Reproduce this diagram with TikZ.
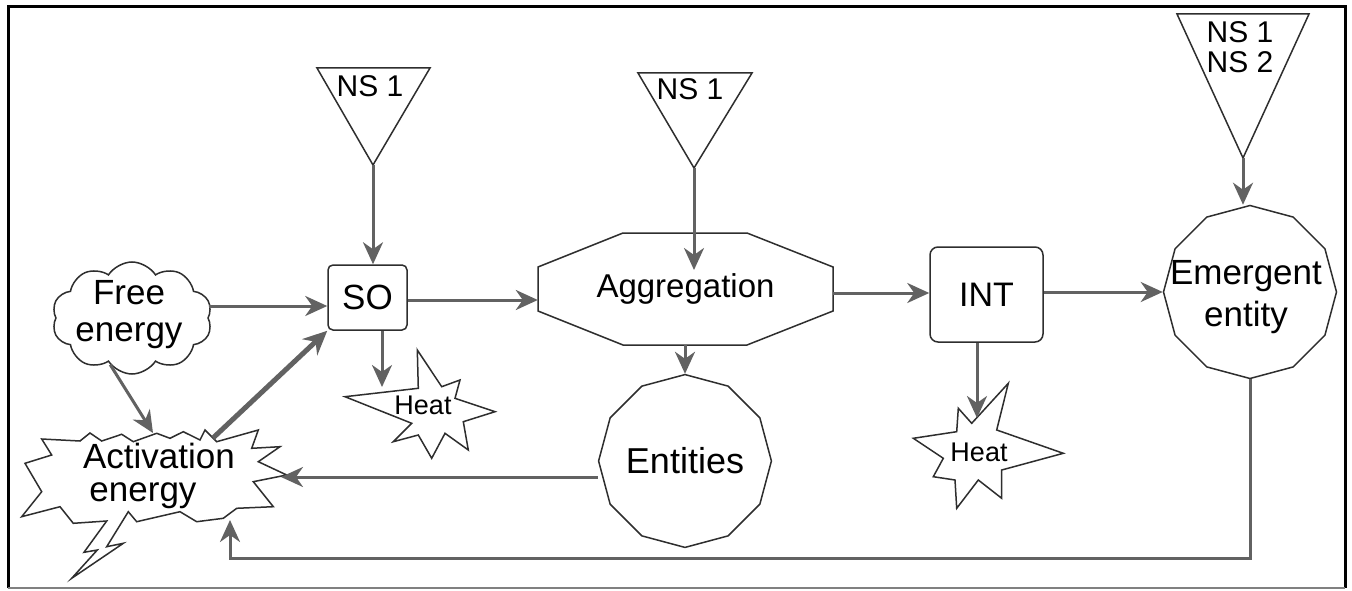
\documentclass[tikz,border=0pt]{standalone}
\usepackage{fontspec}
\setmainfont{Liberation Sans}
\usetikzlibrary{arrows.meta,shapes.geometric,shapes.symbols,calc}
\definecolor{arrgray}{HTML}{626262}
\definecolor{shpcol}{HTML}{2E2E2E}
\begin{document}
\begin{tikzpicture}[x=1pt,y=-1pt,
  arr/.style={draw=arrgray, line width=3pt, -{Stealth[length=22pt,width=20pt,inset=7pt]}},
  thickarr/.style={draw=arrgray, line width=5pt, -{Stealth[length=24pt,width=22pt,inset=8pt]}},
  shp/.style={draw=shpcol, line width=1.5pt, fill=white},
  lbl/.style={font=\fontsize{35}{42}\selectfont, inner sep=0pt, align=center, text=black},
  nslbl/.style={font=\fontsize{30}{30}\selectfont, inner sep=0pt, align=center, text=black},
  heatlbl/.style={font=\fontsize{27}{30}\selectfont, inner sep=0pt, text=black}]
\fill[white] (0,0) rectangle (1352,591);
\useasboundingbox (0,0) rectangle (1352,591);
% frame
\draw[black, line width=3pt] (8,588) -- (8,7) -- (1345,7) -- (1345,588);
\draw[gray, line width=2pt] (8,588) -- (1345,588);

% NS triangles
\coordinate (t1) at (373,165);
\draw[shp] (317,68) -- (430,68) -- (t1) -- cycle;
\node[nslbl] (ns1a) at (370,86) {NS 1};
\coordinate (t2) at (694,168);
\draw[shp] (638,73) -- (752,73) -- (t2) -- cycle;
\node[nslbl] (ns1b) at (690,89) {NS 1};
\coordinate (t3) at (1243,158);
\draw[shp] (1177,14) -- (1309,14) -- (t3) -- cycle;
\node[nslbl] (ns12) at (1240,47) {NS 1\\NS 2};

% Free energy cloud
\node[cloud, cloud puffs=10, cloud puff arc=115, aspect=1.5, draw=shpcol, line width=1.5pt, fill=white,
      minimum width=160pt, minimum height=112pt, inner sep=0pt] (free) at (132,318) {};
\node[lbl, font=\fontsize{35}{37}\selectfont] (freet) at (129,314.7) {Free\\energy};

% Activation energy
\draw[shp] (41.7,439) -- (80,441) -- (90,433) -- (101.7,441) -- (121.7,434.3) -- (133.3,441.7)
  -- (156.7,433.3) -- (170,438.3) -- (183.3,431.7) -- (200,440) -- (205,430) -- (216.7,441.7)
  -- (258.3,430) -- (251.7,448.3) -- (280,446.7) -- (258.3,461.7) -- (286.7,475) -- (253.3,481.7)
  -- (273.3,506.7) -- (236.7,508.3) -- (223.3,518.3) -- (196.7,521.7) -- (180,511.7) -- (136.7,521.7)
  -- (128.3,511.7) -- (106.7,546.7) -- (123.3,543.3) -- (71.7,578.3) -- (97.3,550) -- (84,552.3)
  -- (106.7,521) -- (73.3,523.3) -- (60,506.7) -- (21.7,516.7) -- (41.7,491.7) -- (25,463.3)
  -- (51.7,455) -- cycle;
\node[lbl, font=\fontsize{35}{33}\selectfont] (act) at (159,476) {Activation\\energy\hspace*{32pt}};
\coordinate (actN) at (153,433);
\coordinate (actNE) at (213,438);
\coordinate (actE) at (281,477);
\coordinate (actS) at (230,520);

% SO
\node[shp, rounded corners=5pt, minimum width=79pt, minimum height=65pt, lbl] (so) at (367.5,297.5) {SO};

% Heat 1
\draw[shp] (345,396.7) -- (418.3,388.3) -- (417.3,350) -- (441.7,386.7) -- (460,380) -- (455,398.3)
  -- (495,411.7) -- (463.3,421.7) -- (468.3,450) -- (445,433.3) -- (431.7,458.3) -- (418.3,435)
  -- (393.3,441.7) -- (411.7,423.3) -- cycle;
\node[heatlbl] (heat1) at (423,405) {Heat};
\coordinate (h1) at (382,387);

% Aggregation
\draw[shp] (623,233) -- (747,233) -- (833,267) -- (833,311) -- (747,345) -- (623,345) -- (538,311) -- (538,267) -- cycle;
\node[minimum width=295pt, minimum height=112pt, lbl, font=\fontsize{33}{40}\selectfont] (agg) at (685.5,289) {Aggregation};
\coordinate (aggIn) at (694,270);

% Entities
\node[shp, regular polygon, regular polygon sides=12, shape border rotate=15, minimum size=168pt, inner sep=0pt,
      lbl, font=\fontsize{36}{43}\selectfont] (ent) at (685,461) {Entities};

% INT
\node[shp, rounded corners=8pt, minimum width=113pt, minimum height=95pt, lbl, font=\fontsize{34}{40}\selectfont] (int) at (986.5,294.5) {INT};

% Heat 2
\draw[shp] (913.3,438.3) -- (956.7,431.7) -- (958.3,408.3) -- (971.7,423.3) -- (1008.3,383.3) -- (996.7,430)
  -- (1063.3,453.3) -- (1001.7,470) -- (1001.7,498.3) -- (978.3,480) -- (956.7,508.3) -- (955,480)
  -- (933.3,476.7) -- (943.3,458.3) -- cycle;
\node[heatlbl] (heat2) at (979,452) {Heat};
\coordinate (h2) at (977,418);

% Emergent entity
\node[shp, regular polygon, regular polygon sides=12, shape border rotate=15, minimum size=173pt, inner sep=0pt] (em) at (1250,292) {};
\node[lbl] (emt) at (1246,297) {Emergent\\entity};

% connectors
\draw[arr] (t1) -- (t1 |- so.north);
\draw[arr] (t2) -- (aggIn);
\draw[arr] (t3) -- (t3 |- em.north);
\draw[arr] (free.east |- 0,306) -- (so.west |- 0,306);
\draw[arr] (free.245) -- (actN);
\draw[thickarr] (actNE) -- (so.south west);
\draw[arr] (so.east |- 0,300) -- (agg.west |- 0,300);
\draw[arr] (so.south -| h1) -- (h1);
\draw[arr] (agg.south -| ent.north) -- (ent.north);
\draw[arr] (agg.east |- 0,293) -- (int.west |- 0,293);
\draw[arr] (int.east |- 0,292) -- (em.west |- 0,292);
\draw[arr] (int.south -| h2) -- (h2);
\draw[arr] (ent.west |- 0,477) -- (actE);
\draw[arr] (em.south) -- (em.south |- 0,558) -| (actS);
\end{tikzpicture}
\end{document}
